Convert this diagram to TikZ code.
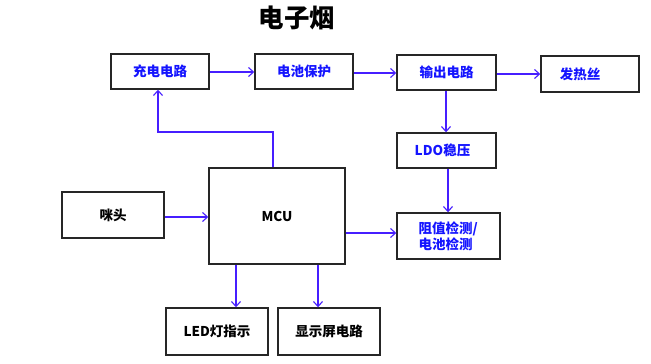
\documentclass[tikz,border=0pt]{standalone}
\usepackage{fontspec}
\setmainfont{Noto Sans CJK SC}
\newfontfamily\cjk{Noto Sans CJK SC}
\usetikzlibrary{arrows.meta}
\definecolor{linec}{RGB}{70,30,255}
\definecolor{txtb}{RGB}{20,20,255}
\tikzset{
  blk/.style={draw=black!85, line width=1.4pt, inner sep=0pt, font=\fontsize{13.5}{15}\selectfont\bfseries},
  conn/.style={draw=linec, line width=1.2pt, -{Straight Barb[length=5pt,width=9pt,line width=1.1pt]}},
}
\begin{document}
\begin{tikzpicture}[x=1pt,y=-1pt]
\useasboundingbox (0,0) rectangle (651,364);
\node[font=\fontsize{25.5}{28}\selectfont\bfseries] (title) at (297,18) {电子烟};
% boxes: corners
\newcommand{\mybox}[6]{\node[blk, minimum width=#4-#2, minimum height=#5-#3, text=#6] (#1) at ({(#2+#4)/2},{(#3+#5)/2})}
\mybox{chg}{111}{54}{209}{89}{txtb} {充电电路};
\mybox{bat}{255}{54}{353}{89}{txtb} {电池保护};
\mybox{out}{397}{55}{496}{90}{txtb} {输出电路};
\mybox{heat}{541}{56}{639}{92}{txtb} {\hspace*{-20pt}发热丝};
\mybox{ldo}{397}{133}{496}{168}{txtb} {\hspace*{-8pt}LDO稳压};
\mybox{det}{397}{213}{500}{259}{txtb} {};
\node[font=\fontsize{13.5}{16}\selectfont\bfseries, text=txtb, align=left, anchor=west] (dett) at (415,236) {阻值检测/\\电池检测};
\mybox{mic}{62}{192}{164}{238}{black} {咪头};
\mybox{mcu}{209}{168}{345}{264}{black} {MCU};
\mybox{led}{166}{308}{268}{355}{black} {LED灯指示};
\mybox{disp}{278}{308}{380}{355}{black} {显示屏电路};
% connectors
\draw[conn] (chg.east |- 0,72) -- (bat.west |- 0,72);
\draw[conn] (bat.east |- 0,73) -- (out.west |- 0,73);
\draw[conn] (out.east |- 0,74) -- (heat.west |- 0,74);
\draw[conn] (out.south -| 446,0) -- (ldo.north -| 446,0);
\draw[conn] (ldo.south -| 448,0) -- (det.north -| 448,0);
\draw[conn] (mcu.east |- 0,233) -- (det.west |- 0,233);
\draw[conn] (mic.east |- 0,217) -- (mcu.west |- 0,217);
\coordinate (k1) at (273,132);
\coordinate (k2) at (158,132);
\draw[conn] (mcu.north -| k1) -- (k1) -- (k2) -- (chg.south -| k2);
\draw[conn] (mcu.south -| 236,0) -- (led.north -| 236,0);
\draw[conn] (mcu.south -| 318,0) -- (disp.north -| 318,0);
\end{tikzpicture}
\end{document}
